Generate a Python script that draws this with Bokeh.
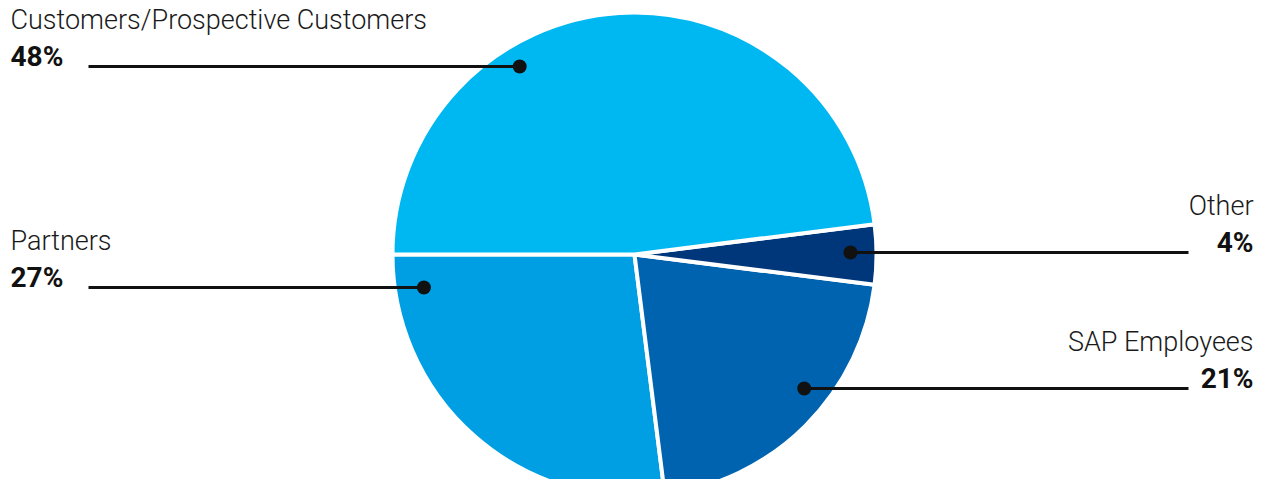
import math
from bokeh.plotting import figure
from bokeh.models import Range1d, ColumnDataSource
from bokeh.core.properties import value
from bokeh.embed import file_html
from bokeh.resources import INLINE

# ---- data ----
categories = ["Partners", "SAP Employees", "Other", "Customers/Prospective Customers"]
shares = [27, 21, 4, 48]
colors = ["#009fe3", "#0063b0", "#00377b", "#00b8f1"]

# ---- layout (pixels, reference image coords, origin top-left) ----
W, H = 1256, 479
cx_ref, cy_ref, R = 634, 254, 242

def fx(x):
    return x

def fy(y):
    return H - y

p = figure(width=W, height=H, output_backend="svg", toolbar_location=None,
           x_range=Range1d(0, W), y_range=Range1d(0, H),
           x_axis_location=None, y_axis_location=None,
           min_border=0, outline_line_color=None)
p.grid.visible = False

# wedges computed from values
starts, ends = [], []
cum = 0.0
for s in shares:
    starts.append(math.pi + cum / 100 * 2 * math.pi)
    cum += s
    ends.append(math.pi + cum / 100 * 2 * math.pi)

src = ColumnDataSource(dict(cat=categories, share=shares, color=colors,
                            start=starts, end=ends))
p.wedge(x=fx(cx_ref), y=fy(cy_ref), radius=R, start_angle="start", end_angle="end",
        fill_color="color", line_color="white", line_width=4, source=src)

# label annotations: (category index, dot angle deg, dot radius, line end x, text side, line y)
ann = [
    (3, 121.3, 221, 88, "left", 66),
    (0, 188.6, 213, 88, "left", 287),
    (2, 0.5, 216, 1188, "right", 252),
    (1, -38.2, 216, 1188, "right", 388),
]

label_font = value("Roboto Light")
pct_font = value("Roboto")
for idx, ang, rr, lx, side, ly in ann:
    dx = cx_ref + rr * math.cos(math.radians(ang))
    dy = ly
    p.line([fx(lx), fx(dx)], [fy(ly), fy(dy)], line_color="#111111", line_width=3)
    p.scatter([fx(dx)], [fy(dy)], size=14, fill_color="#111111", line_color=None)
    if side == "left":
        tx, align = 10, "left"
    else:
        tx, align = 1253, "right"
    p.text(x=[fx(tx)], y=[fy(ly - 47)], text=[categories[idx]], text_font=label_font,
           text_font_size="27px", text_color="#1a1a1a", text_align=align,
           text_baseline="alphabetic")
    p.text(x=[fx(tx)], y=[fy(ly - 10)], text=[f"{shares[idx]}%"], text_font=pct_font,
           text_font_size="28px", text_font_style="bold", text_color="#111111",
           text_align=align, text_baseline="alphabetic")

open("out.html", "w").write(file_html(p, INLINE))
